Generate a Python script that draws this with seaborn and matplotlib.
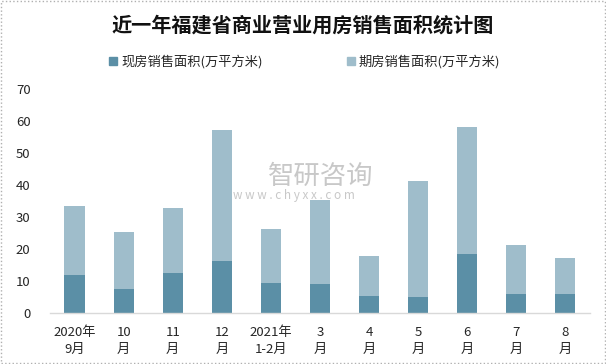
import numpy as np
import pandas as pd
import matplotlib
matplotlib.use("Agg")
import matplotlib.pyplot as plt
import seaborn as sns
from matplotlib.patches import Patch, Rectangle

#_____DATA_____
months = ["2020年\n9月", "10\n月", "11\n月", "12\n月", "2021年\n1-2月",
          "3\n月", "4\n月", "5\n月", "6\n月", "7\n月", "8\n月"]
xianfang = [12.0, 7.6, 12.6, 16.3, 9.5, 9.2, 5.4, 5.1, 18.5, 5.8, 6.1]
qifang = [21.5, 17.8, 20.3, 41.0, 16.8, 26.2, 12.5, 36.2, 39.7, 15.6, 11.2]
series_names = ["现房销售面积(万平方米)", "期房销售面积(万平方米)"]
title = "近一年福建省商业营业用房销售面积统计图"

DARK = "#5b8fa6"
LIGHT = "#9fbdcb"

df = pd.DataFrame({"month": months, "xianfang": xianfang, "qifang": qifang})
df["total"] = df["xianfang"] + df["qifang"]

#_____STYLE_____
sns.set_style("white")
plt.rcParams["font.family"] = ["Noto Sans CJK SC", "DejaVu Sans"]

fig = plt.figure(figsize=(6.06, 3.64), dpi=100)
ax = fig.add_axes([0.0825, 0.14, 0.891, 0.615])

# stacked bars: full height in light, lower part in dark on top
sns.barplot(data=df, x="month", y="total", color=LIGHT, width=0.41,
            saturation=1, linewidth=0, ax=ax)
sns.barplot(data=df, x="month", y="xianfang", color=DARK, width=0.41,
            saturation=1, linewidth=0, ax=ax)

ax.set_ylim(0, 70)
ax.set_yticks(range(0, 71, 10))
ax.set_xlabel("")
ax.set_ylabel("")
ax.tick_params(axis="y", length=0, pad=14, labelsize=9.5)
ax.tick_params(axis="x", length=0, pad=9, labelsize=9.5)
for lab in ax.get_xticklabels():
    lab.set_linespacing(1.45)
for s in ["top", "right", "left"]:
    ax.spines[s].set_visible(False)
ax.spines["bottom"].set_color("#d9d9d9")
ax.spines["bottom"].set_linewidth(1)
ax.grid(False)

#_____TITLE & LEGEND_____
fig.text(0.5, 1 - 25 / 364, title, ha="center", va="center",
         fontsize=14.5, fontweight="bold", color="#111111")

handles = [Patch(color=DARK), Patch(color=LIGHT)]
fig.legend(handles, series_names, loc="center", bbox_to_anchor=(0.503, 1 - 62 / 364),
           ncol=2, frameon=False, fontsize=9.5, handlelength=0.6, handleheight=0.6,
           handletextpad=0.3, columnspacing=6.4)

# watermark
fig.text(0.442, 1 - 176 / 364, "智研咨询", ha="left", va="center",
         fontsize=19, color="#c8c8c8")
fig.text(0.385, 1 - 195 / 364, "w w w . c h y x x . c o m", ha="left", va="center",
         fontsize=8.5, color="#c8c8c8")

# light border around the picture
fig.patches.append(Rectangle((0.001, 0.002), 0.997, 0.995, transform=fig.transFigure,
                             fill=False, edgecolor="#b0b0b0", linewidth=1, linestyle=":"))

plt.savefig("out.png", dpi=100)
plt.close()
